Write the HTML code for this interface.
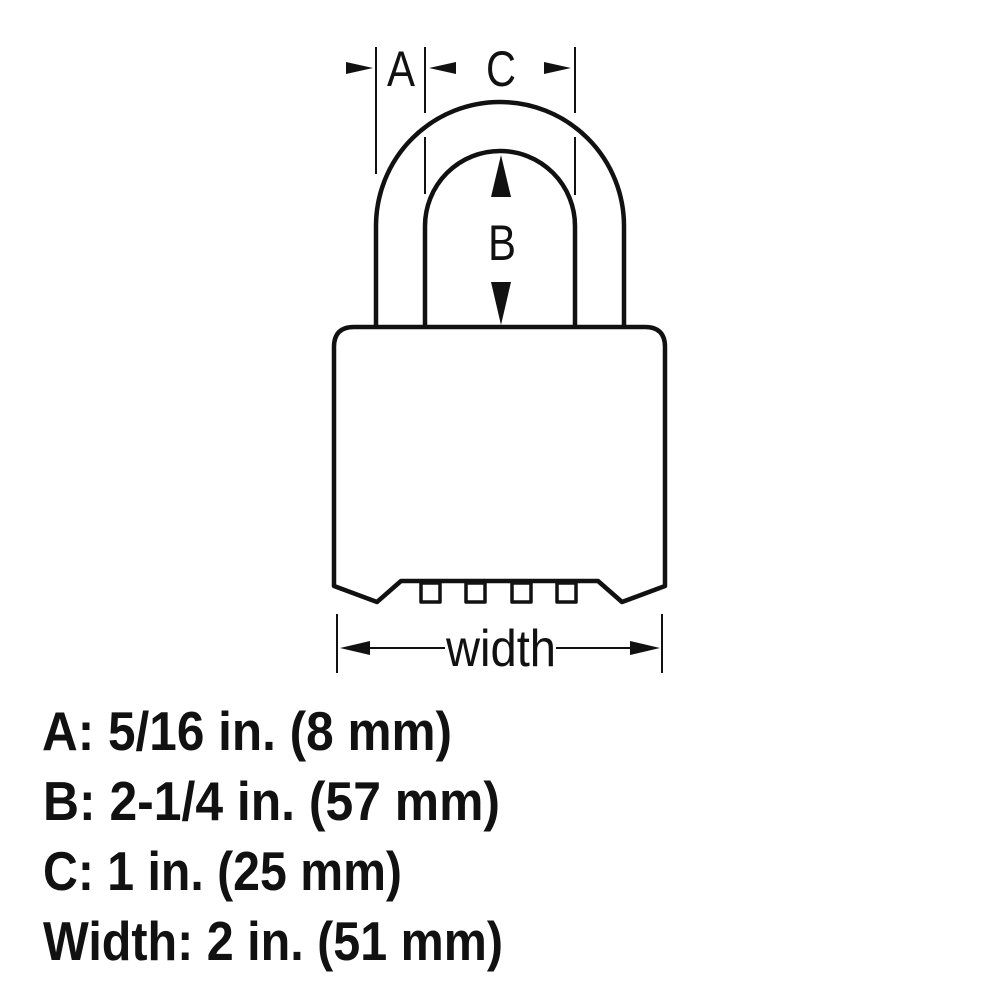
<!DOCTYPE html>
<html><head><meta charset="utf-8"><style>html,body{margin:0;padding:0;background:#fff}svg{display:block}</style></head>
<body>
<svg width="1000" height="1000" viewBox="0 0 1000 1000" xmlns="http://www.w3.org/2000/svg">
<g fill="none" stroke="#111" stroke-width="4.5" stroke-linejoin="round">
<path d="M376 327 V226 A124 124 0 0 1 624 226 V327"/>
<path d="M425 327 V226 A75 75 0 0 1 575 226 V327"/>
<path d="M334 586 V347 Q334 327 354 327 H645 Q665 327 665 347 V586 L622 602 L598 581 H401 L377 602 Z"/>
<rect x="421" y="583" width="19" height="19" stroke-width="3.5"/>
<rect x="466" y="583" width="19" height="19" stroke-width="3.5"/>
<rect x="512" y="583" width="19" height="19" stroke-width="3.5"/>
<rect x="557" y="583" width="19" height="19" stroke-width="3.5"/>
</g>
<g stroke="#111" stroke-width="2">
<line x1="376" y1="47" x2="376" y2="174"/>
<line x1="425" y1="47" x2="425" y2="113"/>
<line x1="425" y1="137" x2="425" y2="194"/>
<line x1="575" y1="47" x2="575" y2="113"/>
<line x1="575" y1="137" x2="575" y2="195"/>
<line x1="337" y1="614" x2="337" y2="673"/>
<line x1="662" y1="614" x2="662" y2="673"/>
<line x1="345" y1="648" x2="445" y2="648"/>
<line x1="556" y1="648" x2="655" y2="648"/>
</g>
<g fill="#111">
<polygon points="346,62 373,68 346,74"/>
<polygon points="456,62 429,68 456,74"/>
<polygon points="544,62 571,68 544,74"/>
<polygon points="501,155 491,197 511,197"/>
<polygon points="491,282 511,282 501,325"/>
<polygon points="340,648 370,641 370,655"/>
<polygon points="660,648 630,641 630,655"/>
</g>
<g font-family="Liberation Sans, sans-serif" fill="#111" text-anchor="middle">
<text x="401" y="86" font-size="50" textLength="28" lengthAdjust="spacingAndGlyphs">A</text>
<text x="501" y="86" font-size="50" textLength="30" lengthAdjust="spacingAndGlyphs">C</text>
<text x="502" y="260" font-size="50" textLength="28" lengthAdjust="spacingAndGlyphs">B</text>
<text x="501" y="666" font-size="52" textLength="110" lengthAdjust="spacingAndGlyphs">width</text>
</g>
<g font-family="Liberation Sans, sans-serif" font-weight="bold" font-size="55" fill="#111">
<text x="42" y="750" textLength="410" lengthAdjust="spacingAndGlyphs">A: 5/16 in. (8 mm)</text>
<text x="43" y="820" textLength="457" lengthAdjust="spacingAndGlyphs">B: 2-1/4 in. (57 mm)</text>
<text x="43" y="890" textLength="359" lengthAdjust="spacingAndGlyphs">C: 1 in. (25 mm)</text>
<text x="43" y="960" textLength="460" lengthAdjust="spacingAndGlyphs">Width: 2 in. (51 mm)</text>
</g>
</svg>
</body></html>
